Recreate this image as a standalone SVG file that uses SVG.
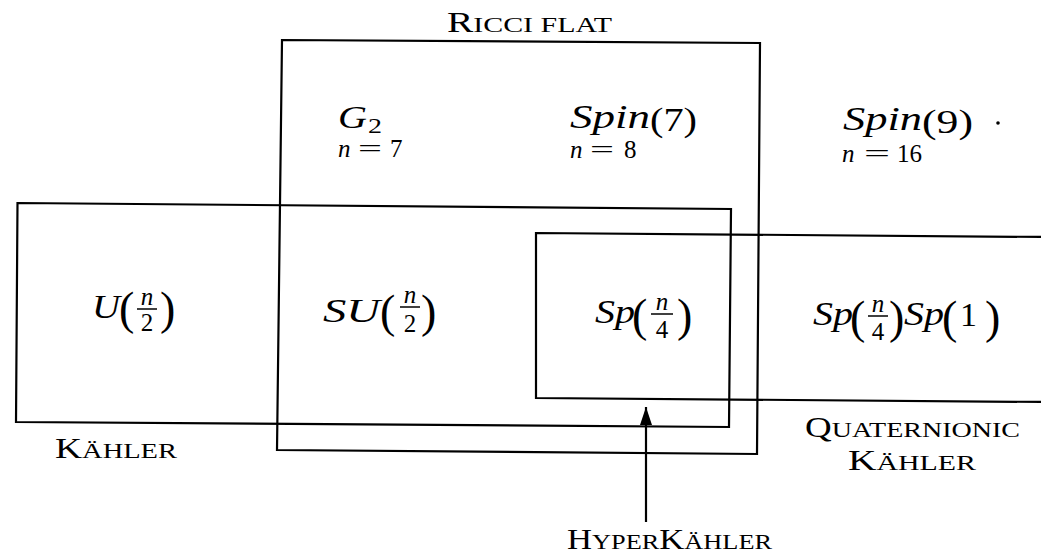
<svg xmlns="http://www.w3.org/2000/svg" width="1041" height="555" viewBox="0 0 1041 555">
<style>
.box{fill:none;stroke:#000;stroke-width:2.2;stroke-linejoin:miter}
.t{font-family:"Liberation Serif","Times New Roman",serif;fill:#000}
.it{font-style:italic}
.m{font-size:34px}
.pb{font-size:46px}
.fr{font-size:25px}
.sub{font-size:25px}
.cap{font-size:29px}
.sc{font-size:22px}
.bar{stroke:#000;stroke-width:1.5}
.arr{stroke:#000;stroke-width:2.2;fill:none}
</style>
<defs>
<marker id="ah" markerUnits="userSpaceOnUse" viewBox="0 0 18 12" refX="18" refY="6" markerWidth="18" markerHeight="12" orient="auto">
<path d="M0,0 L18,6 L0,12 z" fill="#000"/>
</marker>
</defs>
<rect width="1041" height="555" fill="#fff"/>

<g id="ricci-flat">
<polygon class="box" points="282,40 760,43 757,454 277,450"/>
<text class="t" x="447" y="32" textLength="165" lengthAdjust="spacingAndGlyphs"><tspan class="cap">R</tspan><tspan class="sc">ICCI FLAT</tspan></text>
</g>

<g id="kahler">
<polygon class="box" points="17.5,203 731,209 729,427 16,422"/>
<text class="t" x="55" y="458" textLength="122" lengthAdjust="spacingAndGlyphs"><tspan class="cap">K</tspan><tspan class="sc">ÄHLER</tspan></text>
</g>

<g id="quaternionic-kahler">
<polygon class="box" points="536,233 1046,237 1046,402 536,398"/>
<text class="t" x="805" y="437" textLength="215" lengthAdjust="spacingAndGlyphs"><tspan class="cap">Q</tspan><tspan class="sc">UATERNIONIC</tspan></text>
<text class="t" x="848" y="470" textLength="128" lengthAdjust="spacingAndGlyphs"><tspan class="cap">K</tspan><tspan class="sc">ÄHLER</tspan></text>
</g>

<g id="g2">
<text class="t it" x="338" y="128" font-size="32" textLength="29" lengthAdjust="spacingAndGlyphs">G</text>
<text class="t" x="368" y="133" font-size="22" textLength="14" lengthAdjust="spacingAndGlyphs">2</text>
<text class="t sub" y="157"><tspan class="it" x="338">n</tspan><tspan x="358" textLength="24" lengthAdjust="spacingAndGlyphs">=</tspan><tspan x="390">7</tspan></text>
</g>

<g id="spin7">
<text class="t it m" x="570" y="128" textLength="80" lengthAdjust="spacingAndGlyphs">Spin</text>
<text class="t m" x="650" y="131" textLength="47" lengthAdjust="spacingAndGlyphs">(7)</text>
<text class="t sub" y="158"><tspan class="it" x="570">n</tspan><tspan x="590" textLength="24" lengthAdjust="spacingAndGlyphs">=</tspan><tspan x="624">8</tspan></text>
</g>

<g id="spin9">
<text class="t it m" x="843" y="130" textLength="79" lengthAdjust="spacingAndGlyphs">Spin</text>
<text class="t m" x="922" y="133" textLength="51" lengthAdjust="spacingAndGlyphs">(9)</text>
<circle cx="998" cy="123" r="1.8" fill="#000"/>
<text class="t sub" y="162"><tspan class="it" x="842">n</tspan><tspan x="864" textLength="26" lengthAdjust="spacingAndGlyphs">=</tspan><tspan x="897">16</tspan></text>
</g>

<g id="u-n2">
<text class="t it m" x="92" y="318" textLength="28" lengthAdjust="spacingAndGlyphs">U</text>
<text class="t pb" x="119" y="324">(</text>
<text class="t it fr" x="147" y="305" text-anchor="middle">n</text>
<line class="bar" x1="137" y1="309" x2="157" y2="309"/>
<text class="t fr" x="147" y="331" text-anchor="middle">2</text>
<text class="t pb" x="160" y="324">)</text>
</g>

<g id="su-n2">
<text class="t it m" x="323" y="322" textLength="57" lengthAdjust="spacingAndGlyphs">SU</text>
<text class="t pb" x="380" y="327">(</text>
<text class="t it fr" x="410" y="303" text-anchor="middle">n</text>
<line class="bar" x1="400" y1="307" x2="420" y2="307"/>
<text class="t fr" x="410" y="332" text-anchor="middle">2</text>
<text class="t pb" x="421" y="327">)</text>
</g>

<g id="sp-n4">
<text class="t it m" x="595" y="323" textLength="40" lengthAdjust="spacingAndGlyphs">Sp</text>
<text class="t pb" x="632" y="331">(</text>
<text class="t it fr" x="662" y="310" text-anchor="middle">n</text>
<line class="bar" x1="651" y1="314" x2="673" y2="314"/>
<text class="t fr" x="662" y="338" text-anchor="middle">4</text>
<text class="t pb" x="677" y="331">)</text>
</g>

<g id="sp-n4-sp1">
<text class="t it m" x="813" y="325" textLength="40" lengthAdjust="spacingAndGlyphs">Sp</text>
<text class="t pb" x="850" y="333">(</text>
<text class="t it fr" x="878" y="312" text-anchor="middle">n</text>
<line class="bar" x1="868" y1="316" x2="888" y2="316"/>
<text class="t fr" x="878" y="340" text-anchor="middle">4</text>
<text class="t pb" x="889" y="333">)</text>
<text class="t it m" x="904" y="325" textLength="40" lengthAdjust="spacingAndGlyphs">Sp</text>
<text class="t pb" x="942" y="333">(</text>
<text class="t m" x="960" y="326">1</text>
<text class="t pb" x="985" y="333">)</text>
</g>

<g id="hyperkahler">
<text class="t" x="567" y="549" textLength="205" lengthAdjust="spacingAndGlyphs"><tspan class="cap">H</tspan><tspan class="sc">YPER</tspan><tspan class="cap">K</tspan><tspan class="sc">ÄHLER</tspan></text>
</g>

<g id="connectors">
<line class="arr" x1="646" y1="522" x2="646" y2="407" marker-end="url(#ah)"/>
</g>
</svg>
